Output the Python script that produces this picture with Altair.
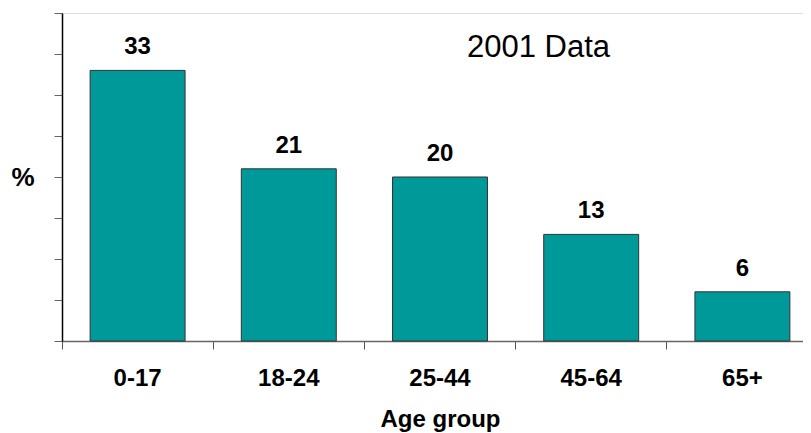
import altair as alt
import pandas as pd

groups = ["0-17", "18-24", "25-44", "45-64", "65+"]
values = [33, 21, 20, 13, 6]
y_ticks = [0, 5, 10, 15, 20, 25, 30, 35, 40]

df = pd.DataFrame({"group": groups, "pct": values})

FONT = "Liberation Sans"

x_enc = alt.X(
    "group:N",
    sort=groups,
    scale=alt.Scale(range=[0, 756], paddingInner=0, paddingOuter=0),
    axis=alt.Axis(
        title="Age group",
        titleFont=FONT,
        titleFontSize=24,
        titleFontWeight="bold",
        titleColor="#000000",
        titleX=378,
        titleY=85,
        titleAlign="center",
        titleBaseline="alphabetic",
        labelFont=FONT,
        labelFontSize=24,
        labelFontWeight="bold",
        labelColor="#000000",
        labelAngle=0,
        labelBaseline="alphabetic",
        labelPadding=36,
        bandPosition=0,
        tickSize=8,
        tickColor="#555555",
        domainColor="#666666",
        domainWidth=1.5,
        grid=False,
    ),
)

y_enc = alt.Y(
    "pct:Q",
    scale=alt.Scale(domain=[0, 40], nice=False),
    axis=alt.Axis(
        title="%",
        titleFont=FONT,
        titleFontSize=26,
        titleFontWeight="bold",
        titleColor="#000000",
        titleAngle=0,
        titleX=-39.5,
        titleY=172,
        titleAlign="center",
        titleBaseline="alphabetic",
        values=y_ticks,
        labels=False,
        tickSize=8,
        tickColor="#666666",
        domainColor="#000000",
        domainWidth=1.5,
        grid=False,
    ),
)

bars = alt.Chart(df).mark_bar(
    width=alt.RelativeBandSize(0.628),
    color="#009999",
    stroke="#333333",
    strokeWidth=1,
).encode(x=x_enc, y=y_enc)

labels = alt.Chart(df).mark_text(
    dy=-16,
    baseline="alphabetic",
    align="center",
    font=FONT,
    fontSize=24,
    fontWeight="bold",
    color="#000000",
).encode(x=alt.X("group:N", sort=groups), y="pct:Q", text="pct:Q")

chart = (
    alt.layer(bars, labels)
    .properties(
        width=741,
        height=328,
        title=alt.TitleParams(
            "2001 Data",
            anchor="start",
            frame="group",
            font=FONT,
            fontSize=31,
            fontWeight="normal",
            color="#000000",
            baseline="alphabetic",
            offset=0,
            dx=405,
            dy=75,
        ),
        autosize=alt.AutoSizeParams(type="none"),
        padding={"left": 54, "top": 5, "right": 0, "bottom": 92},
    )
    .configure_view(stroke=None)
    .configure(background="#ffffff")
)

chart.save("out.html", embed_options={"renderer": "svg", "actions": False})
